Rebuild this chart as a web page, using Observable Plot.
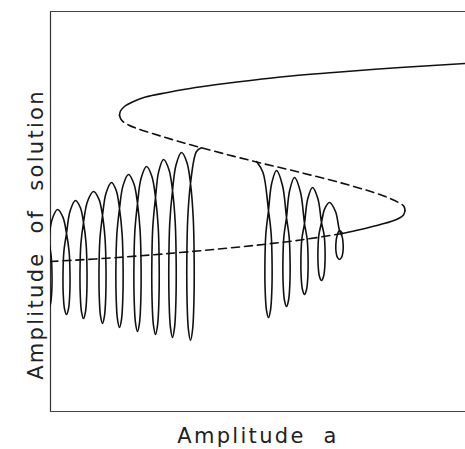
<!DOCTYPE html>
<html><head><meta charset="utf-8">
<script src="https://cdn.jsdelivr.net/npm/d3@7"></script>
<script src="https://cdn.jsdelivr.net/npm/@observablehq/plot@0.6"></script>
<style>body{margin:0;background:#fff} svg{display:block}</style>
</head><body><div id="chart"></div>
<script>
// ---- labels ----
const xLabel = "Amplitude  a";
const yLabel = "Amplitude  of  solution";

// ---- backbone (steady-state response curve) ----
const upperStableX = [4.20, 4.15, 3.50, 2.83, 2.30, 1.83, 1.45, 1.17, 0.95, 0.83, 0.74, 0.70, 0.69];
const upperStableY = [3.485, 3.48, 3.44, 3.39, 3.345, 3.29, 3.24, 3.19, 3.145, 3.10, 3.05, 3.005, 2.96];
const upperUnstableX = [0.69, 0.71, 0.78, 1.10, 1.50, 2.00, 2.50, 3.00, 3.32, 3.48, 3.535, 3.545];
const upperUnstableY = [2.96, 2.915, 2.865, 2.755, 2.64, 2.51, 2.39, 2.26, 2.16, 2.09, 2.05, 2.01];
const lowerStableX = [3.545, 3.53, 3.46, 3.30, 3.10, 2.92];
const lowerStableY = [2.01, 1.965, 1.92, 1.87, 1.82, 1.78];
const lowerUnstableX = [2.92, 2.50, 2.03, 1.47, 0.67, 0.00, -0.10];
const lowerUnstableY = [1.78, 1.715, 1.66, 1.605, 1.54, 1.50, 1.495];

// ---- periodic branch, left family ----
const leftStartX = [-0.12];
const leftStartY = [2.01];
const leftLoopX = [-0.02, 0.16, 0.33, 0.52, 0.69, 0.87, 1.05, 1.22, 1.40];
const leftLoopBottom = [1.03, 0.97, 0.93, 0.88, 0.84, 0.80, 0.77, 0.74, 0.71];
const leftLoopCross = [1.71, 1.78, 1.89, 1.96, 2.03, 2.08, 2.14, 2.21, 2.28];
const leftLoopHalfWidth = [0.036, 0.036, 0.036, 0.036, 0.037, 0.037, 0.038, 0.038, 0.038];
const leftArchX = [0.07, 0.25, 0.43, 0.61, 0.78, 0.96, 1.13, 1.31];
const leftArchY = [2.02, 2.11, 2.20, 2.29, 2.37, 2.45, 2.52, 2.59];
const leftEndX = [1.46, 1.51];
const leftEndY = [2.60, 2.637];

// ---- periodic branch, right family ----
const rightStartX = [2.06, 2.125];
const rightStartY = [2.50, 2.39];
const rightLoopX = [2.18, 2.36, 2.54, 2.71, 2.89];
const rightLoopBottom = [0.94, 1.05, 1.17, 1.31, 1.52];
const rightLoopCross = [2.01, 1.94, 1.88, 1.89, 1.81];
const rightLoopHalfWidth = [0.037, 0.037, 0.037, 0.037, 0.038];
const rightArchX = [2.26, 2.44, 2.62, 2.79];
const rightArchY = [2.41, 2.34, 2.24, 2.09];
const rightEndX = [2.92];
const rightEndY = [1.78];

const zip = (xs, ys) => xs.map((x, i) => ({x, y: ys[i]}));

// outline of one loop (rounded U below the self-crossing) and arch shoulders
const loopSide = [[0.72, 0.22], [0.97, 0.5], [0.9, 0.75], [0.55, 0.93]];
function trace(sx, sy, lx, lb, lc, lw, ax, ay, ex, ey) {
  const pts = zip(sx, sy);
  lx.forEach((cx, i) => {
    const h = lc[i] - lb[i], w = lw[i];
    pts.push({x: cx, y: lc[i]});
    loopSide.forEach(([fx, fy]) => pts.push({x: cx + fx * w, y: lc[i] - fy * h}));
    pts.push({x: cx, y: lb[i]});
    loopSide.slice().reverse().forEach(([fx, fy]) => pts.push({x: cx - fx * w, y: lc[i] - fy * h}));
    pts.push({x: cx, y: lc[i]});
    if (i < ax.length) {
      const dl = ax[i] - cx, Dl = ay[i] - lc[i];
      const dr = lx[i + 1] - ax[i], Dr = ay[i] - lc[i + 1];
      pts.push({x: ax[i] - 0.6 * dl, y: ay[i] - 0.32 * Dl});
      pts.push({x: ax[i], y: ay[i]});
      pts.push({x: ax[i] + 0.6 * dr, y: ay[i] - 0.32 * Dr});
    }
  });
  return pts.concat(zip(ex, ey));
}

const leftTrace = trace(leftStartX, leftStartY, leftLoopX, leftLoopBottom, leftLoopCross, leftLoopHalfWidth, leftArchX, leftArchY, leftEndX, leftEndY);
const rightTrace = trace(rightStartX, rightStartY, rightLoopX, rightLoopBottom, rightLoopCross, rightLoopHalfWidth, rightArchX, rightArchY, rightEndX, rightEndY);

const ink = "#111";
const solid = {x: "x", y: "y", curve: "catmull-rom", stroke: ink, strokeWidth: 1.6, clip: true};
const dashed = {...solid, strokeDasharray: "8,5"};
const label = {fontSize: 21, fontFamily: "DejaVu Sans", fill: "#222", textAnchor: "middle"};

const chart = Plot.plot({
  width: 465,
  height: 449,
  marginLeft: 50,
  marginRight: 0,
  marginTop: 11,
  marginBottom: 38,
  x: {domain: [0, 4.15], axis: null},
  y: {domain: [0, 4], axis: null},
  marks: [
    Plot.ruleX([0], {y1: 0, y2: 4, stroke: "#333", strokeWidth: 1.2}),
    Plot.ruleY([0, 4], {x1: 0, x2: 4.15, stroke: "#444", strokeWidth: 1.2}),
    Plot.line(zip(upperStableX, upperStableY), solid),
    Plot.line(zip(upperUnstableX, upperUnstableY), dashed),
    Plot.line(zip(lowerStableX, lowerStableY), solid),
    Plot.line(zip(lowerUnstableX, lowerUnstableY), dashed),
    Plot.line(leftTrace, solid),
    Plot.line(rightTrace, solid),
    Plot.text([xLabel], {...label, frameAnchor: "bottom", dy: 31}),
    Plot.text([yLabel], {...label, frameAnchor: "left", rotate: -90, dx: -14, dy: 23})
  ]
});
chart.querySelectorAll("text").forEach(t => t.setAttribute("letter-spacing", "2.3"));
document.getElementById("chart").appendChild(chart);
</script>
</body></html>
